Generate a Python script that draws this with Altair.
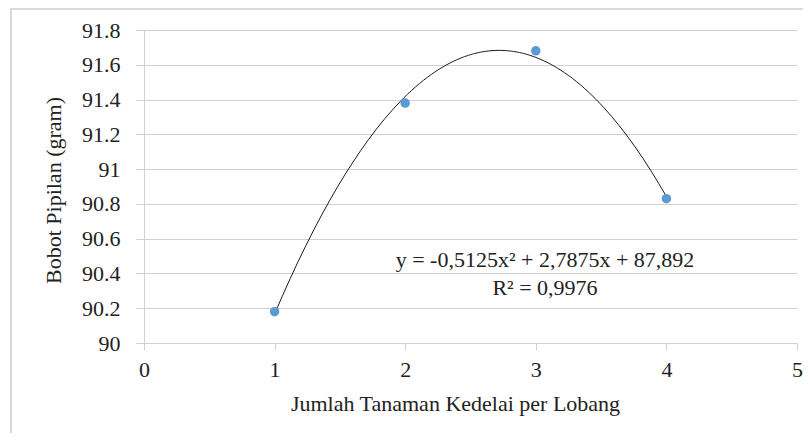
import altair as alt
import pandas as pd

x_vals = [1, 2, 3, 4]
y_vals = [90.18, 91.38, 91.68, 90.83]
y_ticks = [90.0, 90.2, 90.4, 90.6, 90.8, 91.0, 91.2, 91.4, 91.6, 91.8]
x_ticks = [0, 1, 2, 3, 4, 5]
eq_line1 = "y = -0,5125x² + 2,7875x + 87,892"
eq_line2 = "R² = 0,9976"
x_title = "Jumlah Tanaman Kedelai per Lobang"
y_title = "Bobot Pipilan (gram)"

FONT = "Liberation Serif"
FS = 22
GRID = "#d0d0d0"

df = pd.DataFrame({"x": x_vals, "y": y_vals})

xenc = alt.X("x:Q", scale=alt.Scale(domain=[0, 5], nice=False),
             axis=alt.Axis(values=x_ticks, format="d", grid=False, title=x_title,
                           tickSize=7, tickColor=GRID, domainColor=GRID,
                           labelPadding=9, labelFlush=False, titleX=311, titleY=60,
                           titleAlign="center", titleBaseline="middle", titleAnchor=None))
yenc = alt.Y("y:Q", scale=alt.Scale(domain=[90, 91.8], nice=False, zero=False),
             axis=alt.Axis(values=y_ticks, format=".1~f", grid=True, gridColor=GRID,
                           title=y_title, tickSize=8, tickColor=GRID, domainColor=GRID,
                           labelPadding=16, labelFlush=False, titleX=-91, titleY=160,
                           titleAngle=270, titleAlign="center", titleBaseline="middle"))

border = alt.Chart(pd.DataFrame({"a": [0]})).mark_rect(
    fill=None, stroke="#d9d9d9", strokeWidth=2, clip=False
).encode(x=alt.value(-133), x2=alt.value(700), y=alt.value(-21), y2=alt.value(430))

curve = alt.Chart(df).transform_regression(
    "x", "y", method="poly", order=2, extent=[1, 4]
).mark_line(color="#1a1a1a", strokeWidth=1, interpolate="monotone").encode(x=xenc, y=yenc)

points = alt.Chart(df).mark_circle(size=90, color="#5b9bd5", opacity=1).encode(x=xenc, y=yenc)

def eq_text(t, ypix):
    return alt.Chart(pd.DataFrame({"t": [t]})).mark_text(
        font=FONT, fontSize=FS, color="#222", align="center", baseline="middle"
    ).encode(text="t:N", x=alt.value(401), y=alt.value(ypix))

eq1 = eq_text(eq_line1, 230)
eq2 = eq_text(eq_line2, 258)

chart = alt.layer(border, curve, points, eq1, eq2).properties(
    width=653, height=313,
    background="white",
    autosize=alt.AutoSizeParams(type="none"),
    padding={"left": 136, "top": 22, "right": 6, "bottom": 90},
).configure_view(stroke=None).configure_axis(
    labelFont=FONT, titleFont=FONT, labelFontSize=FS, titleFontSize=FS,
    labelColor="#222", titleColor="#222", titleFontWeight="normal", domainWidth=1,
    gridWidth=1, tickWidth=1,
)

chart.save("out.html", embed_options={"renderer": "svg", "actions": False})
